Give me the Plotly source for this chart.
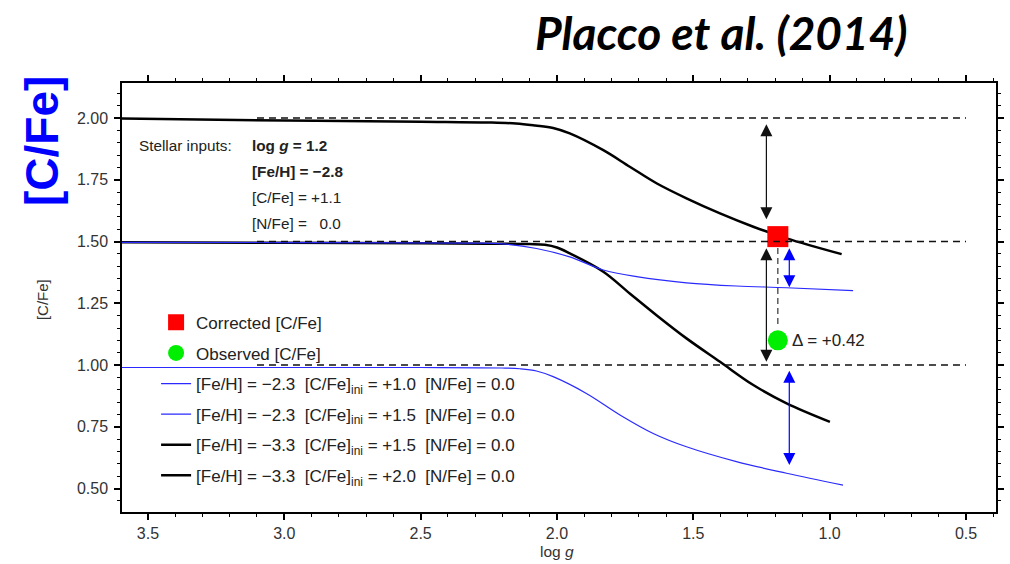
import plotly.graph_objects as go

# ---------------- data ----------------
logg_blk20 = [3.595, 3.0, 2.5, 2.25, 2.15, 2.08, 2.014, 1.953, 1.83, 1.733, 1.635, 1.525, 1.402, 1.28, 1.158, 0.956]
cfe_blk20 = [1.998, 1.99, 1.985, 1.982, 1.978, 1.970, 1.960, 1.938, 1.870, 1.803, 1.736, 1.675, 1.614, 1.560, 1.513, 1.449]

logg_blk15 = [3.595, 3.0, 2.5, 2.1, 2.044, 2.0, 1.953, 1.83, 1.733, 1.635, 1.525, 1.402, 1.28, 1.158, 0.999]
cfe_blk15 = [1.497, 1.495, 1.493, 1.49, 1.487, 1.476, 1.452, 1.378, 1.290, 1.202, 1.108, 1.013, 0.919, 0.845, 0.770]

logg_blu15 = [3.595, 3.0, 2.5, 2.3, 2.2, 2.075, 1.953, 1.83, 1.708, 1.525, 1.342, 1.158, 0.914]
cfe_blu15 = [1.497, 1.496, 1.495, 1.494, 1.491, 1.472, 1.438, 1.385, 1.358, 1.333, 1.320, 1.313, 1.301]

logg_blu10 = [3.595, 3.0, 2.5, 2.2, 2.136, 2.075, 2.014, 1.892, 1.769, 1.647, 1.525, 1.342, 1.158, 0.951]
cfe_blu10 = [0.99, 0.99, 0.99, 0.988, 0.985, 0.976, 0.953, 0.885, 0.798, 0.723, 0.669, 0.609, 0.562, 0.514]

star_logg = 1.19
corrected_cfe = 1.52
observed_cfe = 1.10
delta_label = "\u0394 = +0.42"

ref_levels = [2.0, 1.5, 1.0]
ref_logg_span = [3.1, 0.5]

# double arrows: x, y_from, y_to, colour
arrow_x = [1.232, 1.232, 1.148, 1.148]
arrow_y0 = [1.981, 1.479, 1.479, 0.983]
arrow_y1 = [1.59, 1.013, 1.315, 0.595]
arrow_col = ["#111111", "#111111", "#0000ff", "#0000ff"]

conn_y = [1.474, 1.155]

stellar_labels = ["Stellar inputs:"]
stellar_values = ["<b>log <i>g</i> = 1.2</b>", "<b>[Fe/H] = \u22122.8</b>",
                  "[C/Fe] = +1.1", "[N/Fe] = \u00a0\u00a00.0"]

x_range = [3.595, 0.39]
y_range = [0.405, 2.142]
x_tick0, x_dtick, x_minor = 0.5, 0.5, 0.1
y_tick0, y_dtick, y_minor = 0.5, 0.25, 0.05

FONT = "Liberation Sans, Arial, sans-serif"
BLUE = "#2a2aff"
TXT = "#222"
sp = "\u00a0\u00a0"

fig = go.Figure()

spl = dict(shape="spline", smoothing=1.0)
fig.add_trace(go.Scatter(x=logg_blk20, y=cfe_blk20, mode="lines", showlegend=False,
                         line=dict(color="black", width=2.5, **spl)))
fig.add_trace(go.Scatter(x=logg_blk15, y=cfe_blk15, mode="lines", showlegend=False,
                         line=dict(color="black", width=2.5, **spl)))
fig.add_trace(go.Scatter(x=logg_blu15, y=cfe_blu15, mode="lines", showlegend=False,
                         line=dict(color=BLUE, width=1.2, **spl)))
fig.add_trace(go.Scatter(x=logg_blu10, y=cfe_blu10, mode="lines", showlegend=False,
                         line=dict(color=BLUE, width=1.2, **spl)))

fig.add_trace(go.Scatter(x=[star_logg], y=[corrected_cfe], mode="markers", name="Corrected [C/Fe]",
                         legendgroup="a", marker=dict(symbol="square", size=21, color="#ff0000")))
fig.add_trace(go.Scatter(x=[star_logg], y=[observed_cfe], mode="markers", name="Observed [C/Fe]",
                         legendgroup="b", marker=dict(symbol="circle", size=20, color="#00ee00")))

leg_names = [
    f"[Fe/H] = \u22122.3{sp}[C/Fe]<sub>ini</sub> = +1.0{sp}[N/Fe] = 0.0",
    f"[Fe/H] = \u22122.3{sp}[C/Fe]<sub>ini</sub> = +1.5{sp}[N/Fe] = 0.0",
    f"[Fe/H] = \u22123.3{sp}[C/Fe]<sub>ini</sub> = +1.5{sp}[N/Fe] = 0.0",
    f"[Fe/H] = \u22123.3{sp}[C/Fe]<sub>ini</sub> = +2.0{sp}[N/Fe] = 0.0",
]
leg_cols = [BLUE, BLUE, "black", "black"]
leg_w = [1.2, 1.2, 2.5, 2.5]
for i, (n, c, w) in enumerate(zip(leg_names, leg_cols, leg_w)):
    fig.add_trace(go.Scatter(x=[None], y=[None], mode="lines", name=n, legendgroup=f"l{i}",
                             line=dict(color=c, width=w)))

shapes = []
for lv in ref_levels:
    shapes.append(dict(type="line", xref="x", yref="y", x0=ref_logg_span[0], x1=ref_logg_span[1],
                       y0=lv, y1=lv, line=dict(color="#111", width=1.5, dash="7px,5px")))
shapes.append(dict(type="line", xref="x", yref="y", x0=star_logg, x1=star_logg,
                   y0=conn_y[0], y1=conn_y[1], line=dict(color="#333", width=1.2, dash="6px,4px")))

annotations = []
for ax_, y0, y1, c in zip(arrow_x, arrow_y0, arrow_y1, arrow_col):
    annotations.append(dict(x=ax_, y=y1, ax=ax_, ay=y0, xref="x", yref="y", axref="x", ayref="y",
                            text="", showarrow=True, arrowhead=2, startarrowhead=2, arrowside="end+start",
                            arrowsize=2.0, startarrowsize=2.0, arrowwidth=1.2, arrowcolor=c))

annotations.append(dict(x=1.146, y=observed_cfe, xref="x", yref="y", text=delta_label, showarrow=False,
                        xanchor="left", yanchor="middle", font=dict(family=FONT, size=17, color=TXT)))

annotations.append(dict(x=0.0172, y=0.855, xref="paper", yref="paper", text=stellar_labels[0],
                        showarrow=False, xanchor="left", yanchor="middle",
                        font=dict(family=FONT, size=15.3, color=TXT)))
for i, t in enumerate(stellar_values):
    annotations.append(dict(x=0.1464, y=0.855 - i * 0.0606, xref="paper", yref="paper", text=t,
                            showarrow=False, xanchor="left", yanchor="middle",
                            font=dict(family=FONT, size=15.3, color=TXT)))

annotations.append(dict(x=0.9016, y=1.118, xref="paper", yref="paper", text="<b><i>Placco et al. (2014)</i></b>",
                        showarrow=False, xanchor="right", yanchor="middle",
                        font=dict(family="Lato, sans-serif", size=46, color="black")))
annotations.append(dict(x=-0.0915, y=0.865, xref="paper", yref="paper", text="<b>[C/Fe]</b>",
                        showarrow=False, textangle=-90, xanchor="center", yanchor="middle",
                        font=dict(family=FONT, size=46, color="#0000ff")))
annotations.append(dict(x=-0.0915, y=0.494, xref="paper", yref="paper", text="[C/Fe]",
                        showarrow=False, textangle=-90, xanchor="center", yanchor="middle",
                        font=dict(family=FONT, size=15, color="#333")))
annotations.append(dict(x=0.4977, y=-0.091, xref="paper", yref="paper", text="log <i>g</i>",
                        showarrow=False, xanchor="center", yanchor="middle",
                        font=dict(family=FONT, size=15.5, color="#333")))

axis_common = dict(showline=True, linecolor="black", linewidth=1.5, mirror="allticks",
                   ticks="outside", ticklen=6, tickwidth=1.5, tickcolor="black",
                   showgrid=False, zeroline=False, tickmode="linear", automargin=False,
                   tickfont=dict(family=FONT, size=16, color="#333"))
minor_style = dict(ticks="outside", ticklen=3, tickwidth=1.2, tickcolor="black", showgrid=False)

fig.update_layout(
    width=1010, height=564,
    margin=dict(l=122, r=14, t=83, b=52, autoexpand=False),
    paper_bgcolor="white", plot_bgcolor="white",
    legend=dict(x=0.039, y=0.483, xanchor="left", yanchor="top", bgcolor="rgba(0,0,0,0)",
                font=dict(family=FONT, size=17, color=TXT), tracegroupgap=5.5,
                itemsizing="trace"),
    shapes=shapes,
    annotations=annotations,
    xaxis=dict(range=x_range, tick0=x_tick0, dtick=x_dtick, tickformat=".1f", ticklabelstandoff=0,
               minor=dict(dtick=x_minor, **minor_style), **axis_common),
    yaxis=dict(range=y_range, tick0=y_tick0, dtick=y_dtick, tickformat=".2f", ticklabelstandoff=3,
               minor=dict(dtick=y_minor, **minor_style), **axis_common),
)

fig.write_html("out.html")
